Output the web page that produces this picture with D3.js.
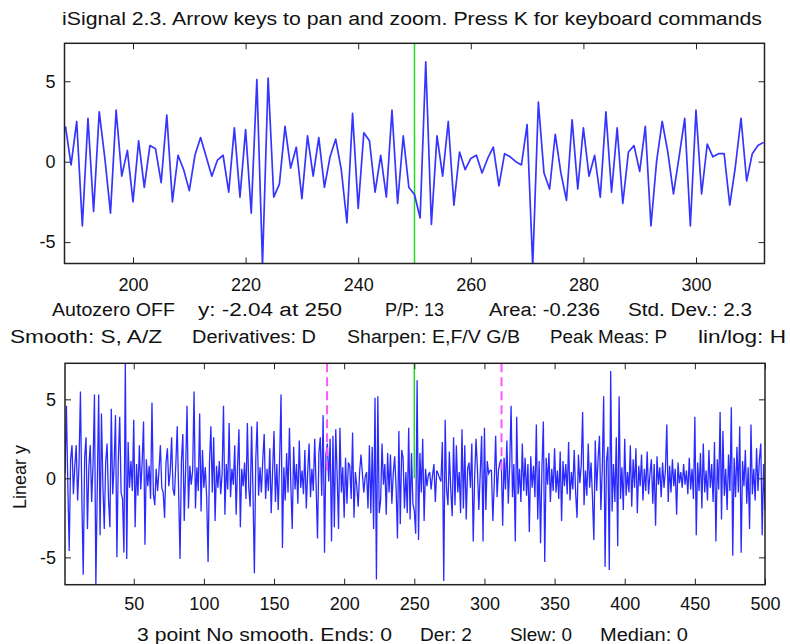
<!DOCTYPE html>
<html>
<head>
<meta charset="utf-8">
<script src="https://d3js.org/d3.v7.min.js"></script>
<style>
  body { margin: 0; background: #fff; }
  svg text { font-family: "Liberation Sans", Arial, sans-serif; fill: #111; }
  .axis text { font-size: 18px; }
  .axis line { stroke: #222; }
</style>
</head>
<body>
<div id="chart"></div>
<script>

// signal values, points 1..500
var sig001 = [0.3, 4.6, -0.4, -4.6, 1.2, 2.1, -1.0, 0.8, 2.1, -1.4,
    0.9, 5.5, -1.2, -6.1, 1.3, 2.6, -3.2, 0.7, 2.1, -1.5,
    0.9, 5.3, -6.8, -0.6, 5.3, -3.6, 4.1, -0.4, -3.2, 1.0,
    2.2, -1.3, -3.1, 4.4, -1.0, 0.8, 4.0, -5.0, 1.2, 3.9,
    -0.9, -1.3, -4.7, 7.3, -5.1, 2.3, -0.6, 1.1, -0.8, 3.7,
    -3.1, 0.9, -1.1, 2.1, -0.7, 1.0, 3.6, -4.2, 1.2, -0.5,
    0.8, -1.3, 4.8, -1.0, -1.7, 0.6, -0.8, 0.5, 2.1, -0.6,
    -0.9, -2.5, 1.0, 1.9, -0.5, 0.4, 2.6, -0.7, -1.1, 0.9,
    3.3, -0.8, -5.1, 1.1, 2.8, -2.7, 0.6, 4.6, -1.9, 0.8,
    -0.4, 0.5, 5.5, -1.9, 0.7, -0.8, 4.1, -2.1, 1.8, -0.6];
var sig101 = [0.7, -1.2, -5.3, 1.0, 3.3, -0.9, 2.6, -2.7, 0.8, -0.6,
    1.1, -1.0, 0.3, 4.6, -2.3, 0.9, -0.7, 3.5, -1.2, 0.6,
    -0.4, 2.1, -2.3, 0.8, 3.1, -3.1, 0.6, -0.5, 1.0, -1.3,
    3.5, -0.6, -1.8, 3.3, -0.9, -6.0, 1.2, 3.6, -1.1, 0.7,
    -0.9, 1.2, 2.8, -1.3, 0.6, -0.8, 1.9, -2.2, 0.5, 3.0,
    -1.5, 0.9, -2.0, 1.2, 5.3, -4.4, 0.7, -1.4, 1.6, -0.9,
    3.2, -0.5, -3.2, 2.0, -0.7, 0.9, -1.6, 2.4, -0.6, 0.5,
    -1.0, 1.8, -1.9, 0.4, 2.2, -1.2, 0.6, -0.8, 2.5, -0.4,
    -3.8, 1.6, 2.6, -1.1, 4.0, -4.7, 1.5, 2.2, -0.2, 2.5,
    -4.0, 2.7, -3.1, 3.1, 0.2, -3.2, 3.2, -0.9, 0.7, -2.5];
var sig201 = [1.3, -1.6, 1.0, 0.8, -1.3, 2.9, -2.5, 0.4, -0.5, -1.8,
    0.4, 1.5, 0.3, -0.9, 0.1, 0.4, -1.9, 2.1, -2.2, 2.0,
    -3.2, 5.1, -6.4, 5.2, -2.2, -1.4, 2.2, -0.4, 0.9, -2.3,
    1.6, -0.9, 1.5, -1.6, 0.3, 1.4, -0.5, -3.8, 3.0, -2.9,
    1.8, 1.3, -1.9, 0.4, -2.2, 3.2, -2.6, 1.6, -1.6, -2.04,
    -3.5, 6.2, -3.9, 1.6, -0.9, 2.5, -2.7, 0.6, -0.5, 0.2,
    0.4, -0.7, 0.2, 0.9, -1.5, 0.5, 0.3, 0.0, -0.2, 2.3,
    -6.5, 3.7, -0.7, -1.7, 1.7, -0.7, -2.4, 2.6, -1.7, 2.1,
    -0.9, 0.4, -2.2, 3.1, -1.9, 2.1, -2.6, 0.6, 1.0, -0.6,
    2.2, -4.0, 0.0, 2.5, 0.6, -2.0, 0.3, 2.7, -4.0, 3.2];
var sig301 = [-2.0, 1.1, 0.3, 0.5, 0.5, -2.7, -0.3, 2.7, -1.2, 0.5,
    1.0, 1.2, -3.0, 1.3, -0.7, 2.4, -1.6, 0.8, 4.6, -1.2,
    0.9, -4.0, 3.9, -1.0, 0.6, -1.5, 2.2, -0.8, 1.3, -1.1,
    0.9, -3.4, 1.4, -0.6, 0.8, -1.2, 3.4, -2.6, 1.1, -4.1,
    0.7, 3.6, -5.3, 1.3, -0.4, 1.6, -1.5, 0.6, -0.8, 1.9,
    -0.9, 0.5, -1.3, 1.7, -2.7, 1.1, -0.5, 0.9, -1.0, 2.3,
    -1.4, 0.4, -0.7, 1.8, -0.9, -2.5, 1.5, -0.3, 0.8, 4.2,
    -1.7, 0.5, -1.1, 2.2, -0.6, 1.0, -1.2, -3.9, 2.4, -0.8,
    1.2, 2.7, -2.0, 0.6, 5.2, -5.6, 1.1, 2.0, -5.8, 6.8,
    -2.1, 0.9, -1.5, 2.6, -4.3, 5.2, -1.3, 0.7, -2.0, 2.5];
var sig401 = [-1.1, 0.4, -0.9, 2.1, -1.8, 1.2, -0.6, 1.9, -2.2, 0.8,
    -0.5, 1.5, -1.4, 0.6, -0.8, 1.7, -1.0, 0.3, 1.2, -1.6,
    0.9, -3.0, 1.4, -0.4, 0.7, -1.2, 1.0, -0.6, 0.5, 3.4,
    -1.5, 0.8, -0.9, 1.2, -0.5, 0.6, -2.3, 1.0, -0.3, 0.4,
    -0.6, 0.9, -0.4, 0.5, -1.0, 1.3, -0.7, 0.6, -1.3, 3.9,
    -3.6, 1.0, -0.8, 1.6, -1.9, 2.2, -0.9, 0.5, -1.4, 1.8,
    -0.6, 0.9, -1.5, 2.3, -4.0, 1.2, -0.7, 4.2, -2.6, 3.0,
    -1.1, 0.6, -2.0, 1.5, -0.8, 4.5, -4.9, 1.3, -1.2, 2.0,
    -0.9, 3.3, -4.7, 1.1, -0.5, 1.8, -1.6, 0.7, -3.2, 3.4,
    -1.0, 0.6, -1.4, 1.9, -0.8, 1.2, 2.2, -3.6, 0.9, -2.0];

var zoomRange = [187.83, 312.17];   // x window shown in the upper plot
var cursorX = 250;                  // green cursor
var topXTicks = [200, 220, 240, 260, 280, 300];
var botXTicks = [50, 100, 150, 200, 250, 300, 350, 400, 450, 500];
var yTicks = [-5, 0, 5];
var topYRange = [-6.33, 7.36];
var botYRange = [-6.73, 7.28];

var titleText = "iSignal 2.3. Arrow keys to pan and zoom. Press K for keyboard commands";
var infoLine1 = ["Autozero OFF", "y: -2.04 at 250", "P/P: 13", "Area: -0.236", "Std. Dev.: 2.3"];
var infoLine2 = ["Smooth: S, A/Z", "Derivatives: D", "Sharpen: E,F/V G/B", "Peak Meas: P", "lin/log: H"];
var infoLine3 = ["3 point No smooth. Ends: 0", "Der: 2", "Slew: 0", "Median: 0"];

var signal = sig001.concat(sig101, sig201, sig301, sig401)
    .map(function(v, i) { return {x: i + 1, y: v}; });

var svg = d3.select("#chart").append("svg")
    .attr("width", 790)
    .attr("height", 644);

function plainNum(d) { return String(d); }   // keep ascii minus like the original

// text row laid out as [start, end] boxes
function textRow(parts, spans, baseline) {
    parts.forEach(function(t, i) {
        svg.append("text")
            .attr("x", spans[i][0])
            .attr("y", baseline)
            .attr("textLength", spans[i][1] - spans[i][0])
            .attr("lengthAdjust", "spacingAndGlyphs")
            .style("font-size", "18px")
            .text(t);
    });
}

function drawPanel(box, xDom, yDom, xt, id, labelPad) {
    var x = d3.scaleLinear().domain(xDom).range([box.left, box.right]);
    var y = d3.scaleLinear().domain(yDom).range([box.bottom, box.top]);
    var g = svg.append("g");

    g.append("clipPath").attr("id", id)
      .append("rect")
        .attr("x", box.left).attr("y", box.top)
        .attr("width", box.right - box.left)
        .attr("height", box.bottom - box.top);

    var plot = g.append("g").attr("clip-path", "url(#" + id + ")");

    // axes, ticks pointing inward on all four sides
    g.append("g").attr("class", "axis")
        .attr("transform", "translate(0," + box.bottom + ")")
        .call(d3.axisBottom(x).tickValues(xt).tickSize(-6).tickPadding(labelPad).tickFormat(plainNum))
        .call(function(a) { a.select(".domain").remove(); });
    g.append("g").attr("class", "axis")
        .attr("transform", "translate(0," + box.top + ")")
        .call(d3.axisTop(x).tickValues(xt).tickSize(-6).tickFormat(""))
        .call(function(a) { a.select(".domain").remove(); });
    g.append("g").attr("class", "axis")
        .attr("transform", "translate(" + box.left + ",0)")
        .call(d3.axisLeft(y).tickValues(yTicks).tickSize(-6).tickPadding(9).tickFormat(plainNum))
        .call(function(a) { a.select(".domain").remove(); });
    g.append("g").attr("class", "axis")
        .attr("transform", "translate(" + box.right + ",0)")
        .call(d3.axisRight(y).tickValues(yTicks).tickSize(-6).tickFormat(""))
        .call(function(a) { a.select(".domain").remove(); });

    g.append("rect")
        .attr("x", box.left).attr("y", box.top)
        .attr("width", box.right - box.left)
        .attr("height", box.bottom - box.top)
        .attr("fill", "none")
        .attr("stroke", "#222")
        .attr("stroke-width", 1.5);

    return {x: x, y: y, plot: plot};
}

// title
svg.append("text")
    .attr("x", 62).attr("y", 25)
    .attr("textLength", 700)
    .attr("lengthAdjust", "spacingAndGlyphs")
    .style("font-size", "18px")
    .text(titleText);

// upper plot: zoomed window
var topBox = {left: 64.5, right: 764.5, top: 43.3, bottom: 263.5};
var upper = drawPanel(topBox, zoomRange, topYRange, topXTicks, "clipTop", 15);
var windowPts = signal.filter(function(d) { return d.x >= 188 && d.x <= 312; });

upper.plot.append("line")
    .attr("x1", upper.x(cursorX)).attr("x2", upper.x(cursorX))
    .attr("y1", topBox.top).attr("y2", topBox.bottom)
    .attr("stroke", "#22dd22").attr("stroke-width", 1.5);

upper.plot.append("path")
    .datum(windowPts)
    .attr("fill", "none")
    .attr("stroke", "#3535ff")
    .attr("stroke-width", 1.7)
    .attr("stroke-linejoin", "round")
    .attr("d", d3.line().x(function(d) { return upper.x(d.x); }).y(function(d) { return upper.y(d.y); }));

// lower plot: whole signal
var botBox = {left: 65, right: 765, top: 363.3, bottom: 584.7};
var lower = drawPanel(botBox, [1, 500], botYRange, botXTicks, "clipBot", 13);

lower.plot.append("path")
    .datum(signal)
    .attr("fill", "none")
    .attr("stroke", "#2a2aff")
    .attr("stroke-width", 1.3)
    .attr("d", d3.line().x(function(d) { return lower.x(d.x); }).y(function(d) { return lower.y(d.y); }));

lower.plot.append("line")
    .attr("x1", lower.x(cursorX)).attr("x2", lower.x(cursorX))
    .attr("y1", lower.y(botYRange[1])).attr("y2", lower.y(0))
    .attr("stroke", "#22dd22").attr("stroke-width", 1.5);

lower.plot.selectAll(".edge")
    .data(zoomRange)
    .enter().append("line")
    .attr("class", "edge")
    .attr("x1", function(d) { return lower.x(d); })
    .attr("x2", function(d) { return lower.x(d); })
    .attr("y1", lower.y(botYRange[1]))
    .attr("y2", lower.y(0.3))
    .attr("stroke", "#ff55ff")
    .attr("stroke-width", 2)
    .attr("stroke-dasharray", "9,5");

svg.append("text")
    .attr("transform", "translate(26,477) rotate(-90)")
    .attr("text-anchor", "middle")
    .style("font-size", "18px")
    .text("Linear y");

// status lines
textRow(infoLine1, [[52, 175], [198, 342], [385, 444], [489, 600], [628, 752]], 316);
textRow(infoLine2, [[10, 162], [192, 316], [347, 520], [550, 667], [698, 786]], 343);
textRow(infoLine3, [[137, 392], [420, 472], [510, 572], [600, 688]], 641);

</script>
</body>
</html>
